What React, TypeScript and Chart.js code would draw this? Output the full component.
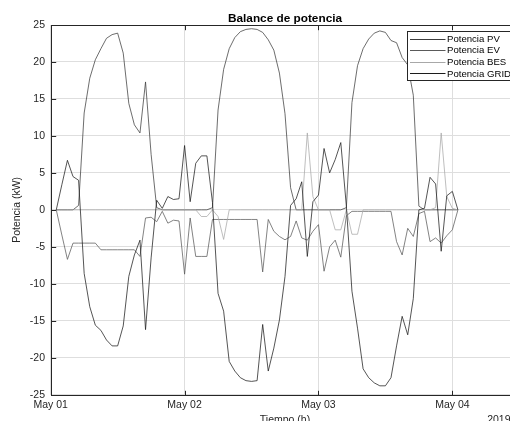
import React, { useEffect, useRef } from "react";
import { Chart, registerables } from "chart.js";
Chart.register(...registerables);

const FONT = "'Liberation Sans', Arial, Helvetica, sans-serif";

// hours since May 01 00:00
const hours = [
  1, 2, 3, 4, 5, 6, 7, 8, 9, 10, 11, 12, 13, 14, 15, 16, 17, 18, 19, 20,
  21, 22, 23, 24, 25, 26, 27, 28, 29, 30, 31, 32, 33, 34, 35, 36, 37, 38, 39, 40,
  41, 42, 43, 44, 45, 46, 47, 48, 49, 50, 51, 52, 53, 54, 55, 56, 57, 58, 59, 60,
  61, 62, 63, 64, 65, 66, 67, 68, 69, 70, 71, 72, 73,
];

const potPV = [
  0, 0, 0, 0, 0.6, 13.1, 17.8, 20.3, 21.8, 23.2,
  23.7, 23.9, 21.2, 14.4, 11.5, 10.4, 17.3, 7.5, 0.3, 0,
  0, 0, 0, 0, 0, 0, 0, 0, 0.3, 13.5,
  19.0, 21.8, 23.3, 24.1, 24.4, 24.5, 24.4, 24.0, 23.0, 21.6,
  18.5, 13.0, 3.0, 0, 0, 0, 0, 0, 0, 0,
  0, 0, 0.3, 14.5, 19.5, 21.8, 23.1, 23.9, 24.2, 24.0,
  22.9, 22.6, 20.6, 19.6, 15.5, 0.5, 0, 0, 0, 0,
  0, 0, 0,
];

const potEV = [
  0, -3.4, -6.7, -4.5, -4.5, -4.5, -4.5, -4.5, -5.4, -5.4,
  -5.4, -5.4, -5.4, -5.4, -5.4, -6.3, -1.1, -1.0, -1.6, -0.2,
  -1.8, -1.4, -1.5, -8.7, -1.1, -6.3, -6.3, -6.3, -1.3, -1.3,
  -1.3, -1.3, -1.3, -1.3, -1.3, -1.3, -1.3, -8.4, -1.3, -2.9,
  -3.6, -4.05, -3.6, -1.5, -3.8, -4.1, -2.9, -2.0, -8.3, -5.0,
  -4.1, -6.4, -0.8, -0.2, -0.2, -0.2, -0.2, -0.2, -0.2, -0.2,
  -0.2, -4.3, -6.1, -2.5, -3.6, -0.5, -0.2, -4.3, -3.8, -4.5,
  -3.5, -2.7, 0,
];

const potBES = [
  0, 0, 0, 0, 0, 0, 0, 0, 0, 0,
  0, 0, 0, 0, 0, 0, 0, 0, 0, 0,
  0, 0, 0, 0, 0, 0, -0.9, -0.9, 0, -0.9,
  -4.0, 0, 0, 0, 0, 0, 0, 0, 0, 0,
  0, 0, 0, 0, 0, 10.4, 1.8, 0, 0, 0,
  -2.7, -2.7, 0, -3.3, -3.3, 0, 0, 0, 0, 0,
  0, 0, 0, 0, 0, 0, 0, 0, 0.3, 10.4,
  1.8, 0.2, 0,
];

const potGRID = [
  0, 3.4, 6.7, 4.5, 4.0, -8.6, -13.1, -15.6, -16.3, -17.6,
  -18.4, -18.4, -15.7, -9.0, -6.1, -4.1, -16.2, -6.5, 1.3, 0.2,
  1.8, 1.4, 1.5, 8.7, 1.1, 6.3, 7.3, 7.3, 1.0, -11.3,
  -13.7, -20.5, -21.8, -22.7, -23.1, -23.2, -23.1, -15.5, -21.8, -18.7,
  -14.9, -9.0, 0.6, 1.5, 3.8, -6.3, 1.1, 2.0, 8.3, 5.0,
  6.8, 9.1, 0.5, -11.0, -16.0, -21.5, -22.7, -23.4, -23.8, -23.8,
  -22.7, -18.4, -14.4, -16.9, -12.0, 0.0, 0.2, 4.4, 3.5, -5.6,
  1.9, 2.5, 0,
];

const dayTicks = [0, 24, 48, 72];
const dayLabels = ["May 01", "May 02", "May 03", "May 04"];
const yTicks = [-25, -20, -15, -10, -5, 0, 5, 10, 15, 20, 25];
const seriesNames = ["Potencia PV", "Potencia EV", "Potencia BES", "Potencia GRID"];
const seriesColors = ["#3c3c3c", "#5a5a5a", "#a8a8a8", "#1c1c1c"];
const titleText = "Balance de potencia";
const xTitle = "Tiempo (h)";
const yTitle = "Potencia (kW)";
const yearText = "2019";

const decor = {
  id: "decor",
  beforeDatasetsDraw(chart: any) {
    const { ctx, chartArea: a, scales } = chart;
    ctx.save();
    ctx.strokeStyle = "#262626";
    ctx.lineWidth = 1;
    const L = Math.round(a.left) + 0.5;
    const R = Math.round(a.right) + 0.5;
    const T = Math.round(a.top) + 0.5;
    const B = Math.round(a.bottom) + 0.5;
    ctx.strokeRect(L, T, R - L, B - T);
    ctx.beginPath();
    dayTicks.forEach((v) => {
      const x = Math.round(scales.x.getPixelForValue(v)) + 0.5;
      ctx.moveTo(x, B);
      ctx.lineTo(x, B - 4.7);
      ctx.moveTo(x, T);
      ctx.lineTo(x, T + 4.7);
    });
    yTicks.forEach((v) => {
      const y = Math.round(scales.y.getPixelForValue(v)) + 0.5;
      ctx.moveTo(L, y);
      ctx.lineTo(L + 4.7, y);
      ctx.moveTo(R, y);
      ctx.lineTo(R - 4.7, y);
    });
    ctx.stroke();
    ctx.restore();
  },
  afterDraw(chart: any) {
    const { ctx, chartArea: a } = chart;
    const cx = (a.left + a.right) / 2;
    ctx.save();
    ctx.fillStyle = "#000";
    ctx.font = `bold 11.8px ${FONT}`;
    ctx.textAlign = "center";
    ctx.textBaseline = "alphabetic";
    ctx.fillText(titleText, cx, 21.6);

    ctx.fillStyle = "#262626";
    ctx.font = `10.5px ${FONT}`;
    ctx.fillText(xTitle, cx, 422.8);
    ctx.textAlign = "right";
    ctx.fillText(yearText, 510.5, 422.8);

    ctx.save();
    ctx.translate(17, (a.top + a.bottom) / 2);
    ctx.rotate(-Math.PI / 2);
    ctx.textAlign = "center";
    ctx.textBaseline = "middle";
    ctx.fillText(yTitle, 0, 0);
    ctx.restore();

    // legend
    const lx = 407.5, ly = 31.5, lw = 120, lh = 49;
    ctx.fillStyle = "#fff";
    ctx.fillRect(lx, ly, lw, lh);
    ctx.strokeStyle = "#262626";
    ctx.lineWidth = 1;
    ctx.strokeRect(lx, ly, lw, lh);
    ctx.font = `9.6px ${FONT}`;
    ctx.textAlign = "left";
    ctx.textBaseline = "middle";
    seriesNames.forEach((name, i) => {
      const y = 38.5 + i * 11.65;
      const yl = Math.round(y) + 0.5;
      ctx.strokeStyle = seriesColors[i];
      ctx.beginPath();
      ctx.moveTo(410, yl);
      ctx.lineTo(445.5, yl);
      ctx.stroke();
      ctx.fillStyle = "#000";
      ctx.fillText(name, 447, y + 0.5);
    });
    ctx.restore();
  },
};

export default function App() {
  const ref = useRef<HTMLCanvasElement | null>(null);
  useEffect(() => {
    if (!ref.current) return;
    const series = [potPV, potEV, potBES, potGRID];
    const chart = new Chart(ref.current, {
      type: "line",
      data: {
        datasets: series.map((vals, i) => ({
          label: seriesNames[i],
          data: hours.map((h, k) => ({ x: h, y: vals[k] })),
          borderColor: seriesColors[i],
          backgroundColor: seriesColors[i],
          borderWidth: 0.75,
          pointRadius: 0,
          tension: 0,
          fill: false,
          order: 3 - i,
        })),
      },
      options: {
        animation: false,
        responsive: false,
        devicePixelRatio: 1,
        layout: { padding: { left: 0, top: 25, right: 40.7, bottom: 0 } },
        plugins: { legend: { display: false }, tooltip: { enabled: false }, title: { display: false } },
        scales: {
          x: {
            type: "linear",
            min: 0,
            max: 84,
            afterBuildTicks: (s: any) => {
              s.ticks = dayTicks.map((v) => ({ value: v }));
            },
            afterFit: (s: any) => {
              s.height = 45.3;
            },
            ticks: {
              autoSkip: false,
              maxRotation: 0,
              padding: 4.5,
              color: "#262626",
              font: { family: FONT, size: 10.5 },
              callback: (v: any) => dayLabels[dayTicks.indexOf(Number(v))] ?? "",
            },
            grid: { color: "#dedede", lineWidth: 1, drawTicks: false },
            border: { display: false },
          },
          y: {
            type: "linear",
            min: -25,
            max: 25,
            afterBuildTicks: (s: any) => {
              s.ticks = yTicks.map((v) => ({ value: v }));
            },
            afterFit: (s: any) => {
              s.width = 50.7;
            },
            ticks: {
              padding: 5.7,
              color: "#262626",
              font: { family: FONT, size: 10.5 },
              callback: (v: any) => String(v),
            },
            grid: { color: "#dedede", lineWidth: 1, drawTicks: false },
            border: { display: false },
          },
        },
      },
      plugins: [decor],
    });
    return () => chart.destroy();
  }, []);

  return (
    <div style={{ position: "fixed", left: 0, top: 0, width: 510, height: 421, overflow: "hidden", background: "#fff" }}>
      <canvas ref={ref} width={560} height={440} style={{ display: "block", width: 560, height: 440 }} />
    </div>
  );
}
